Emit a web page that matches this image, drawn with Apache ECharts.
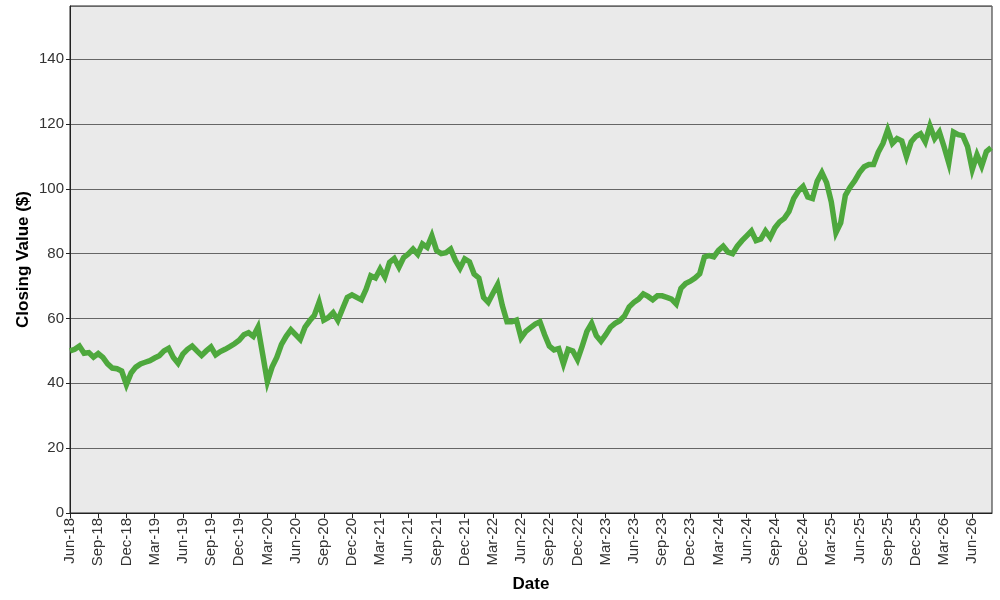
<!DOCTYPE html>
<html>
<head>
<meta charset="utf-8">
<script src="https://cdn.jsdelivr.net/npm/echarts@6/dist/echarts.min.js"></script>
<style>html,body{margin:0;padding:0;background:#fff}#c{width:1000px;height:600px}</style>
</head>
<body>
<div id="c"></div>
<script>
// Half-month sampling starting June 2018 (step = 0.5 month)
const startYear = 2018;
const startMonth = 6; // June
const stepMonths = 0.5;
const closingValues = [
  50, 50.5, 51.5, 49.3, 49.5, 48.1, 49.2, 48, 46, 44.7,
  44.5, 43.8, 39.6, 43.2, 45, 46, 46.5, 47, 47.8, 48.5,
  50, 50.8, 48, 46.2, 49, 50.5, 51.5, 50, 48.6, 50,
  51.2, 48.8, 49.8, 50.5, 51.3, 52.2, 53.3, 55, 55.6, 54.5,
  57.3, 49, 40.5, 45, 48, 52, 54.5, 56.5, 55, 53.5,
  57.3, 59.3, 61, 65, 59.5, 60.3, 61.8, 59.4, 63, 66.5,
  67.3, 66.5, 65.8, 69, 73.2, 72.5, 75.3, 72.8, 77.3, 78.5,
  75.8, 78.8, 79.9, 81.4, 79.8, 83, 82, 85.5, 81, 80,
  80.3, 81.4, 78, 75.5, 78.4, 77.5, 73.7, 72.5, 66.5, 65,
  67.8, 70.5, 64, 59, 59, 59.5, 54, 56, 57.2, 58.3,
  59, 55, 51.5, 50.3, 50.7, 46, 50.5, 50, 47.3, 51.5,
  56, 58.5, 54.7, 53, 55, 57.3, 58.5, 59.3, 60.8, 63.6,
  65, 66, 67.6, 66.8, 65.8, 67, 67, 66.5, 66, 64.5,
  69.3, 70.8, 71.5, 72.5, 73.8, 79, 79.4, 79, 81, 82.3,
  80.5, 80, 82.3, 84, 85.5, 87, 84, 84.5, 87, 85,
  88, 89.8, 90.9, 93, 97, 99.3, 100.7, 97.5, 97, 102.3,
  105, 101.9, 96, 86.5, 89.5, 98, 100.5, 102.5, 105, 106.8,
  107.5, 107.5, 111.3, 114, 118.2, 114, 115.5, 114.8, 110, 114.5,
  116.2, 117, 114.5, 119.4, 115.5, 117.5, 113, 108, 117.5, 116.7,
  116.4, 113, 106, 110.5, 107, 111.5, 112.7
];
const monthNames = ['Jan','Feb','Mar','Apr','May','Jun','Jul','Aug','Sep','Oct','Nov','Dec'];
const yTicks = [0, 20, 40, 60, 80, 100, 120, 140];

const seriesData = closingValues.map((v, i) => [i * stepMonths, v]);

function monthLabel(v) {
  if (Math.abs(v - Math.round(v)) > 1e-6 || Math.round(v) % 3 !== 0) return '';
  const total = (startMonth - 1) + Math.round(v);
  const y = startYear + Math.floor(total / 12);
  return monthNames[total % 12] + '-' + String(y).slice(2);
}

const chart = echarts.init(document.getElementById('c'), null, {renderer: 'canvas'});
chart.setOption({
  animation: false,
  backgroundColor: '#ffffff',
  grid: {left: 70, right: 8, top: 6, bottom: 87, show: true, backgroundColor: '#eaeaea', borderColor: '#222', borderWidth: 1},
  xAxis: {
    type: 'value', min: 0, max: 98.1, interval: 3,
    name: 'Date', nameLocation: 'middle', nameGap: 63,
    nameTextStyle: {fontFamily: 'Liberation Sans', fontWeight: 'bold', fontSize: 17, color: '#000'},
    axisLine: {show: true, lineStyle: {color: '#222'}},
    axisTick: {show: true, length: 5, lineStyle: {color: '#222'}},
    splitLine: {show: false},
    axisLabel: {rotate: 90, fontFamily: 'Liberation Sans', fontSize: 15, color: '#333', margin: 5, formatter: monthLabel, showMaxLabel: false}
  },
  yAxis: {
    type: 'value', min: 0, max: 156.4, interval: 20,
    name: 'Closing Value ($)', nameLocation: 'middle', nameGap: 38, nameMoveOverlap: false,
    nameTextStyle: {fontFamily: 'Liberation Sans', fontWeight: 'bold', fontSize: 17, color: '#000'},
    axisLine: {show: true, lineStyle: {color: '#222'}},
    axisTick: {show: true, length: 4, lineStyle: {color: '#222'}},
    splitLine: {show: true, lineStyle: {color: '#666', width: 1}},
    axisLabel: {fontFamily: 'Liberation Sans', fontSize: 15, color: '#333', margin: 6,
      formatter: v => yTicks.includes(v) ? String(v) : '', showMaxLabel: false}
  },
  series: [{
    type: 'line', data: seriesData, showSymbol: false, smooth: false,
    lineStyle: {color: '#4ea83d', width: 5.5, join: 'miter'},
    itemStyle: {color: '#4ea83d'}
  }]
});
</script>
</body>
</html>
